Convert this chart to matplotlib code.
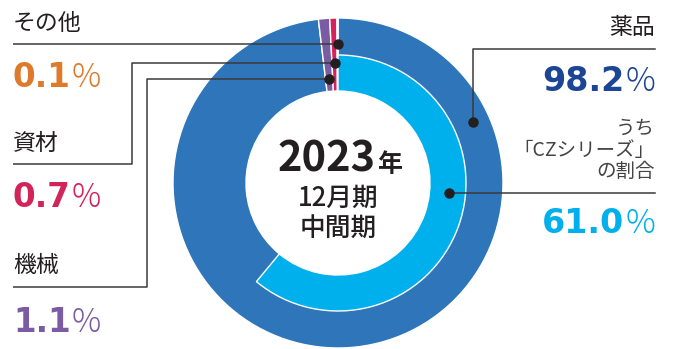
import matplotlib
matplotlib.use('Agg')
import matplotlib.pyplot as plt
import numpy as np

plt.rcParams['font.family'] = ['Noto Sans CJK JP', 'DejaVu Sans']

# data
segments = ['薬品', '機械', '資材', 'その他']
shares = [98.2, 1.1, 0.7, 0.1]
seg_colors = ['#2E75BA', '#7A5CA3', '#D3225C', '#E07A2A']
value_colors = ['#1D4596', '#7B5CA4', '#D2245A', '#DE7A2C']
cz_share = 61.0
cz_color = '#00B0EC'
period = ['2023', '年', '12月期', '中間期']

W, H = 673, 349
CX, CY = 338, H - 183
R_OUT, R_MID, R_IN = 165, 128, 92
LINE = '#3a3a3a'


def py(y):
    return H - y


def polar(ang, r):
    # angle measured clockwise from 12 o'clock
    a = np.radians(ang)
    return CX + r * np.sin(a), CY + r * np.cos(a)


fig = plt.figure(figsize=(W / 100, H / 100), dpi=100)
ax = fig.add_axes([0, 0, 1, 1])

ax.pie(shares, colors=seg_colors, startangle=90, counterclock=False,
       radius=R_OUT, center=(CX, CY),
       wedgeprops=dict(width=R_OUT - R_IN, edgecolor='white', linewidth=1))
ax.pie([cz_share / 100], colors=[cz_color], startangle=90, counterclock=False,
       normalize=False, radius=R_MID, center=(CX, CY),
       wedgeprops=dict(width=R_MID - R_IN, edgecolor='white', linewidth=1))

ax.set_xlim(0, W)
ax.set_ylim(0, H)
ax.set_aspect('equal')
ax.axis('off')

fig.canvas.draw()
renderer = fig.canvas.get_renderer()


def value_text(x, y, num, color, ha='left', size=23.5):
    kw = dict(color=color, va='baseline', fontsize=size)
    if ha == 'left':
        t = ax.text(x, py(y), num, ha='left', fontfamily='DejaVu Sans', fontweight='bold', **kw)
        bb = t.get_window_extent(renderer).transformed(ax.transData.inverted())
        ax.text(bb.x1 + 1, py(y), '%', ha='left', fontweight='light', **kw)
    else:
        t = ax.text(x, py(y), '%', ha='right', fontweight='light', **kw)
        bb = t.get_window_extent(renderer).transformed(ax.transData.inverted())
        ax.text(bb.x0 - 1, py(y), num, ha='right', fontfamily='DejaVu Sans', fontweight='bold', **kw)


# left-side leaders (その他, 資材, 機械)
total = sum(shares)
cum = np.cumsum([0] + shares)
mids = [(cum[i] + shares[i] / 2) / total * 360 for i in range(len(shares))]

dot_r = {3: 139, 2: 120, 1: 104}
elbows = {3: None, 2: (132, 164), 1: (147, 287)}
label_y = {3: 23, 2: 143, 1: 266}
value_y = {3: 87, 2: 207, 1: 332}
for i in [3, 2, 1]:
    dx, dy = polar(mids[i], dot_r[i])
    if elbows[i] is None:
        xs, ys = [dx, 13], [dy, dy]
    else:
        ex, ey = elbows[i]
        xs = [dx, ex, ex, 13]
        ys = [dy, dy, py(ey), py(ey)]
    ax.plot(xs, ys, color=LINE, lw=1.1, solid_capstyle='butt')
    ax.plot(dx, dy, 'o', color='#231f20', ms=6.5)
    ax.text(13, py(label_y[i]), segments[i], fontsize=16.5, color='#231f20',
            ha='left', va='center')
    value_text(13, value_y[i], f'{shares[i]:.1f}', value_colors[i])

# right-side: 薬品
dx, dy = polar(65.7, 148)
ax.plot([dx, dx, 655], [dy, py(49), py(49)], color=LINE, lw=1.1)
ax.plot(dx, dy, 'o', color='#231f20', ms=6.5)
ax.text(655, py(28), segments[0], fontsize=16.5, color='#231f20', ha='right', va='center')
value_text(655, 91, f'{shares[0]:.1f}', value_colors[0], ha='right', size=24)

# right-side: CZ series
dx, dy = polar(95, 111)
ax.plot([dx, 655], [dy, dy], color=LINE, lw=1.1)
ax.plot(dx, dy, 'o', color='#231f20', ms=6.5)
ax.text(655, py(150), 'うち\n「CZシリーズ」\nの割合', fontsize=14, color='#444444',
        ha='right', va='center', linespacing=1.02, multialignment='right')
value_text(655, 233, f'{cz_share:.1f}', cz_color, ha='right', size=24)

# center
t = ax.text(CX - 11, py(172), period[0], fontsize=30, fontweight='bold', color='#231f20',
            ha='center', va='baseline')
bb = t.get_window_extent(renderer).transformed(ax.transData.inverted())
ax.text(bb.x1 + 1, py(172), period[1], fontsize=18, fontweight='bold', color='#231f20',
        ha='left', va='baseline')
ax.text(CX, py(198), period[2], fontsize=18.5, fontweight='medium', color='#231f20',
        ha='center', va='center')
ax.text(CX, py(229), period[3], fontsize=18.5, fontweight='medium', color='#231f20',
        ha='center', va='center')

fig.savefig('out.png', dpi=100)
